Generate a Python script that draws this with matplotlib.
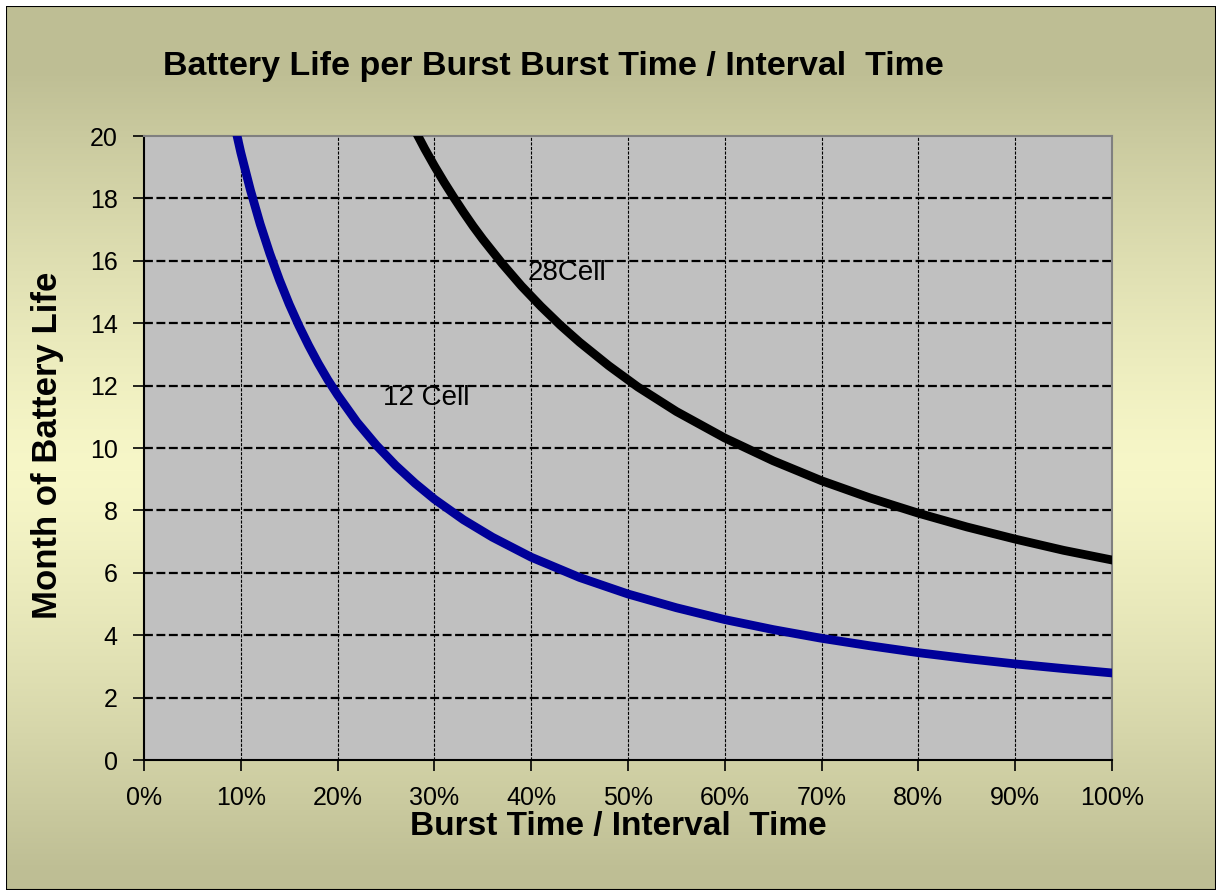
import numpy as np
import matplotlib
matplotlib.use("Agg")
import matplotlib.pyplot as plt
from matplotlib.patches import Rectangle
from matplotlib.ticker import PercentFormatter

plt.rcParams["font.family"] = ["Liberation Sans", "DejaVu Sans"]

# 読み取ったデータ (Burst Time / Interval Time, 月)
x_12cell = [0.09, 0.10, 0.11, 0.12, 0.13, 0.14, 0.15, 0.16, 0.17, 0.18, 0.19, 0.20,
            0.22, 0.24, 0.26, 0.28, 0.30, 0.33, 0.36, 0.40, 0.45, 0.50, 0.55,
            0.60, 0.65, 0.70, 0.75, 0.80, 0.85, 0.90, 0.95, 1.00]
y_12cell = [20.85, 19.47, 18.26, 17.18, 16.23, 15.38, 14.61, 13.92, 13.29, 12.71,
            12.18, 11.70, 10.83, 10.09, 9.44, 8.87, 8.36, 7.70, 7.14, 6.50, 5.85,
            5.32, 4.88, 4.50, 4.18, 3.90, 3.66, 3.44, 3.25, 3.08, 2.93, 2.79]

x_28cell = [0.27, 0.28, 0.29, 0.30, 0.31, 0.32, 0.33, 0.34, 0.35, 0.37, 0.39, 0.41,
            0.43, 0.45, 0.48, 0.51, 0.55, 0.60, 0.65, 0.70, 0.75, 0.80, 0.85,
            0.90, 0.95, 1.00]
y_28cell = [20.80, 20.18, 19.59, 19.04, 18.52, 18.03, 17.56, 17.11, 16.69, 15.91,
            15.19, 14.54, 13.94, 13.39, 12.64, 11.96, 11.17, 10.32, 9.59, 8.95,
            8.40, 7.91, 7.47, 7.08, 6.72, 6.41]

x_ticks = [0, 0.1, 0.2, 0.3, 0.4, 0.5, 0.6, 0.7, 0.8, 0.9, 1.0]
y_ticks = [0, 2, 4, 6, 8, 10, 12, 14, 16, 18, 20]

title = "Battery Life per Burst Burst Time / Interval  Time"
xlabel = "Burst Time / Interval  Time"
ylabel = "Month of Battery Life"

W, H = 1222, 896
fig = plt.figure(figsize=(W / 100, H / 100), dpi=100)
fig.patch.set_facecolor("white")

# 背景のグラデーション
bg = fig.add_axes([0, 0, 1, 1], zorder=0)
bg.set_axis_off()
rows = np.arange(H)
dark = np.array([190, 190, 148]) / 255
light = np.array([247, 247, 200]) / 255
t = np.clip(np.abs(rows - 470) / 400.0, 0, 1) ** 1.3
col = light[None, :] + (dark - light)[None, :] * t[:, None]
img = np.repeat(col[:, None, :], W, axis=1)
bg.imshow(img, extent=[0, W, H, 0], aspect="auto", interpolation="bilinear")
bg.set_xlim(0, W)
bg.set_ylim(H, 0)
bg.add_patch(Rectangle((6, 6), W - 12, H - 12, fill=False, ec="black", lw=1.5))
# 枠の外は白
for r in [(0, 0, W, 6), (0, H - 6, W, 6), (0, 0, 6, H), (W - 6, 0, 6, H)]:
    bg.add_patch(Rectangle(r[:2], r[2], r[3], fc="white", ec="none"))

ax = fig.add_axes([144 / W, (H - 760) / H, 968 / W, 624 / H], zorder=1)
ax.set_facecolor("#c0c0c0")

ax.plot(x_12cell, y_12cell, color="#000099", lw=6.3, solid_joinstyle="round", zorder=3)
ax.plot(x_28cell, y_28cell, color="black", lw=6.3, solid_joinstyle="round", zorder=3)

ax.set_xlim(0, 1)
ax.set_ylim(0, 20)
ax.set_xticks(x_ticks)
ax.set_yticks(y_ticks)
ax.xaxis.set_major_formatter(PercentFormatter(1.0, decimals=0))

for y in y_ticks[1:-1]:
    ax.axhline(y, color="black", lw=1.6, ls=(0, (4, 1.6)), zorder=2)
for x in x_ticks[1:-1]:
    ax.axvline(x, color="black", lw=0.8, ls=(0, (2.8, 1.3)), zorder=2)

ax.tick_params(axis="both", direction="out", length=8, width=1.2, color="black",
               labelsize=18)
ax.tick_params(axis="y", pad=11)
ax.tick_params(axis="x", pad=11)

for s in ["top", "right"]:
    ax.spines[s].set_color("#808080")
    ax.spines[s].set_linewidth(1.5)
for s in ["left", "bottom"]:
    ax.spines[s].set_color("black")
    ax.spines[s].set_linewidth(1.5)

ax.text(0.396, 15.6, "28Cell", fontsize=20, va="center", ha="left", zorder=4)
ax.text(0.247, 11.6, "12 Cell", fontsize=20, va="center", ha="left", zorder=4)

ax.set_title(title, fontsize=24.5, fontweight="bold", x=0.4225, y=1.085)
ax.set_xlabel(xlabel, fontsize=24, fontweight="bold", va="center")
ax.xaxis.set_label_coords(0.4897, -0.107)
ax.set_ylabel(ylabel, fontsize=25, fontweight="bold", va="center")
ax.yaxis.set_label_coords(-0.1, 0.505)

fig.savefig("out.png", dpi=100)
